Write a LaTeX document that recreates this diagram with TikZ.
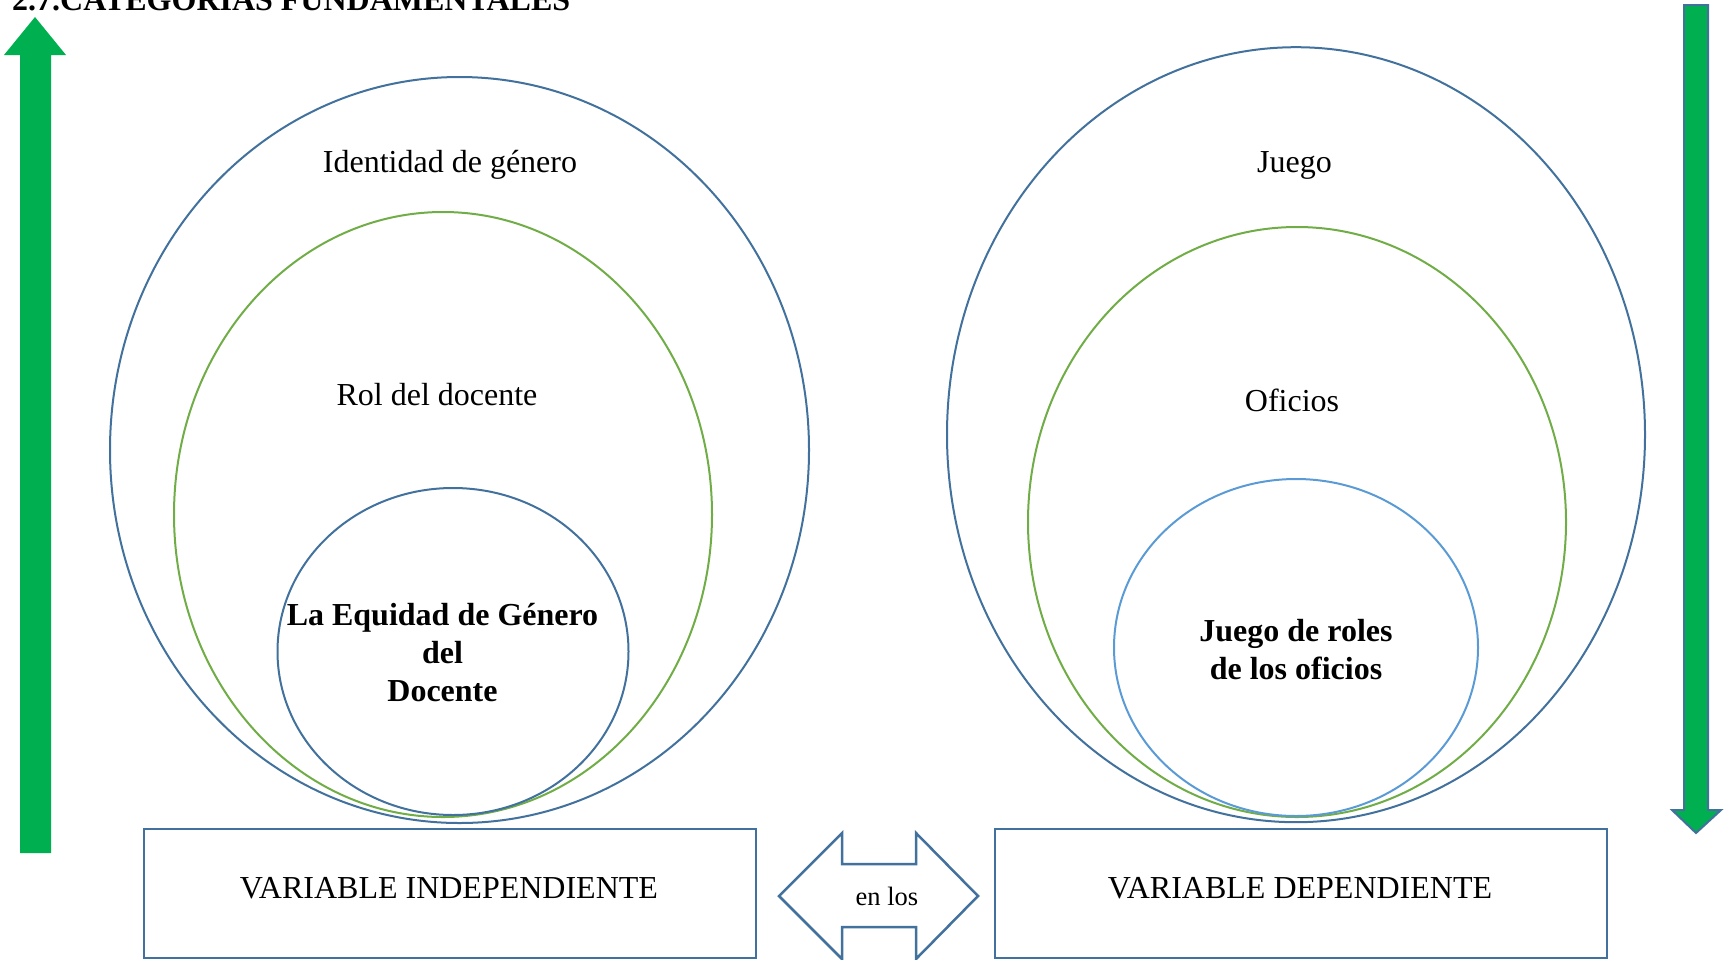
\documentclass[tikz,border=0pt]{standalone}
\usepackage{fontspec}
\setmainfont{Liberation Serif}
\usetikzlibrary{shapes.geometric}
\definecolor{obl}{HTML}{41719C}
\definecolor{ogr}{HTML}{70AD47}
\definecolor{olb}{HTML}{5B9BD5}
\definecolor{arrg}{HTML}{00B050}
\begin{document}
\begin{tikzpicture}[x=1pt,y=-1pt,
  ring/.style={draw,ellipse,inner sep=0pt,outer sep=0pt,line width=2pt},
  lab/.style={font=\fontsize{32}{38}\selectfont,align=center,inner sep=0pt},
  blab/.style={font=\fontsize{32}{38}\selectfont\bfseries,align=center,inner sep=0pt},
  varbox/.style={draw=obl,line width=2.6pt,rectangle,inner sep=0pt}]
\useasboundingbox (0,0) rectangle (1726,959);
% title
\node[anchor=base west,inner sep=0pt,font=\fontsize{32}{38}\selectfont\bfseries] (title) at (12,10.7) {2.7.CATEGORIAS FUNDAMENTALES};
% green arrows
\fill[arrg] (35,17) -- (66,55) -- (51,55) -- (51,853) -- (20,853) -- (20,55) -- (4,55) -- cycle;
\filldraw[fill=arrg,draw=obl,line width=2pt] (1684,5) -- (1708,5) -- (1708,810) -- (1721,810) -- (1696,833) -- (1672,810) -- (1684,810) -- cycle;
% left ellipses
\node[ring,draw=obl,minimum width=699pt,minimum height=746pt] (lout) at (459.5,450) {};
\node[ring,draw=ogr,minimum width=538pt,minimum height=605pt] (lmid) at (443,514.5) {};
\node[ring,draw=obl,minimum width=351pt,minimum height=327pt] (lin) at (453,651.5) {};
\node[lab] (tid) at (450,165) {Identidad de género};
\node[lab] (trol) at (437,395) {Rol del docente};
\node[blab] (teq) at (442.5,653) {La Equidad de Género\\del\\Docente};
% right ellipses
\node[ring,draw=obl,minimum width=698pt,minimum height=775pt] (rout) at (1296,434.7) {};
\node[ring,draw=ogr,minimum width=538pt,minimum height=590pt] (rmid) at (1297,522) {};
\node[ring,draw=olb,minimum width=364pt,minimum height=337pt] (rin) at (1296,647.5) {};
\node[lab] (tjue) at (1294.5,165) {Juego};
\node[lab] (tofi) at (1292,400.5) {Oficios};
\node[blab] (tjr) at (1296,649.5) {Juego de roles\\de los oficios};
% boxes
\node[varbox,minimum width=612pt,minimum height=129pt] (bind) at (450,893.5) {};
\node[lab] (tind) at (449,888) {VARIABLE INDEPENDIENTE};
\node[varbox,minimum width=612pt,minimum height=129pt] (bdep) at (1301,893.5) {};
\node[lab] (tdep) at (1300,888) {VARIABLE DEPENDIENTE};
% double arrow
\filldraw[fill=white,draw=obl,line width=2.5pt,line join=miter] (779,896) -- (842,833) -- (842,864) -- (916,864) -- (916,833) -- (978,896) -- (916,959) -- (916,927) -- (842,927) -- (842,959) -- cycle;
\node[inner sep=0pt,font=\fontsize{26.5}{30}\selectfont] (tenlos) at (887,896) {en los};
\end{tikzpicture}
\end{document}
